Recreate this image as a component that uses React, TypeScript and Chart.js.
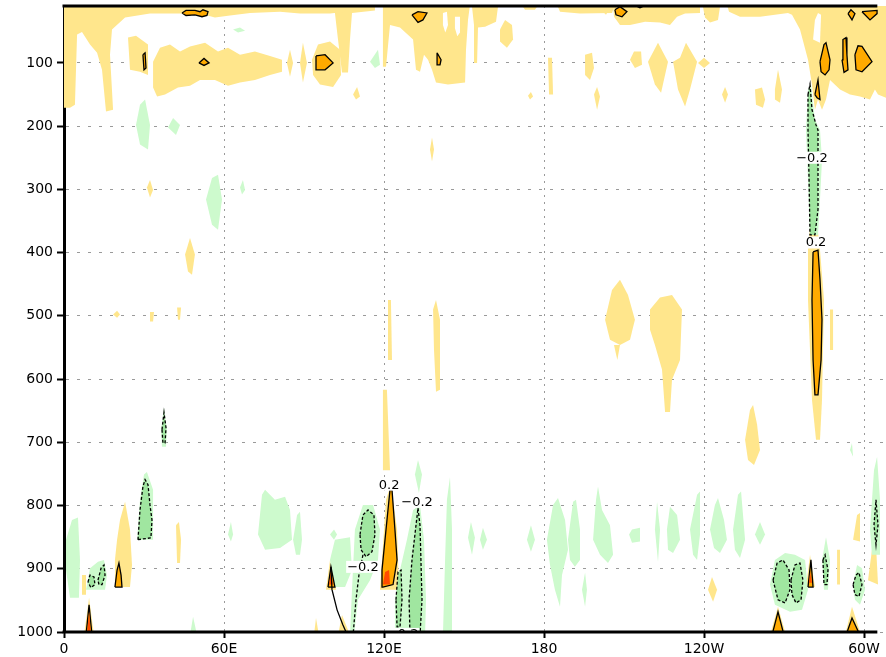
import { useEffect, useRef } from 'react';
import { Chart, registerables } from 'chart.js';

Chart.register(...registerables);

type Pt = [number, number]; // [longitude (deg E), pressure (hPa)]

// ---- axes ----
const lonMin = 0;
const lonMax = 308.25;
const frameRightLon = 305;
const presTop = 10;
const presBottom = 1000;
const xTickValues = [0, 60, 120, 180, 240, 300];
const xTickLabels = ['0', '60E', '120E', '180', '120W', '60W'];
const yTickValues = [100, 200, 300, 400, 500, 600, 700, 800, 900, 1000];

// ---- shaded areas: +0.1..+0.2 (pale yellow) ----
const paleYellowAreas: Pt[][] = [
  [[0, 8], [54.75, 8], [54.75, 19], [43.5, 22], [32.25, 22], [22.9, 28], [18, 47], [17.25, 87], [18.4, 174], [15.75, 177], [14.25, 111], [12.4, 84], [9.75, 71], [6.75, 51], [4.9, 55], [4.1, 166], [2.25, 171], [0, 171]],
  [[24, 60], [27, 57], [31.5, 71], [31.5, 119], [28.5, 114], [24.75, 111]],
  [[33.4, 98], [36, 76], [39.75, 71], [43.5, 82], [47.25, 74], [52.9, 68], [57.75, 82], [61.5, 76], [66, 87], [71.6, 82], [77.25, 89], [81.75, 95], [81.75, 114], [77.25, 119], [71.6, 127], [66, 131], [61.5, 136], [56.6, 127], [51, 127], [47.25, 136], [42.75, 139], [37.9, 150], [34.9, 153], [33.4, 139]],
  [[83.6, 100], [84.75, 79], [85.9, 100], [84.75, 122]],
  [[88.5, 100], [89.6, 68], [91.1, 100], [89.6, 131]],
  [[93, 95], [95.25, 71], [99.75, 66], [103.5, 79], [103.9, 119], [100.9, 138], [96, 134], [93.4, 119]],
  [[51, 8], [105.4, 8], [105.4, 19], [99.75, 22], [88.5, 22], [81, 19], [69.75, 21], [62.25, 25], [56.6, 28], [51, 22]],
  [[99.75, 8], [116.6, 8], [116.6, 17], [108, 21], [107.25, 63], [106.5, 115], [104.25, 115], [102.75, 63], [101.6, 21], [99.75, 19]],
  [[119.6, 8], [152.25, 8], [151.5, 32], [150.75, 79], [150.4, 131], [144, 134], [139.5, 131], [138, 111], [136.5, 95], [135, 87], [133.5, 114], [132, 111], [130.9, 63], [126, 44], [122.25, 40], [120.75, 106], [119.6, 106]],
  [[153, 11], [162.75, 11], [162, 35], [157.9, 43], [155.25, 44], [154.9, 100], [154.1, 100], [153.75, 40]],
  [[163.5, 47], [165.4, 32], [168, 40], [168.4, 63], [166.1, 76], [163.5, 66]],
  [[172.1, 11], [177.4, 11], [176.6, 16], [172.9, 16]],
  [[181.5, 92], [183, 92], [183.4, 150], [181.9, 150]],
  [[184.9, 8], [206.6, 8], [205.5, 21], [193.5, 22], [186, 19]],
  [[195.4, 87], [198, 84], [198.75, 108], [197.25, 127], [195.4, 119]],
  [[198.75, 150], [199.9, 138], [201, 153], [199.9, 174]],
  [[174, 152], [175.1, 146], [175.9, 153], [174.75, 158]],
  [[108.4, 150], [109.9, 138], [111, 153], [109.5, 158]],
  [[201.4, 16], [204.4, 16], [203.25, 24]],
  [[205.9, 8], [238.5, 8], [238.5, 21], [232.9, 22], [229.9, 27], [227.25, 40], [223.5, 36], [217.9, 35], [212.25, 40], [208.5, 40], [206.25, 27]],
  [[239.6, 11], [246, 11], [245.25, 32], [242.25, 36], [240.4, 28]],
  [[248.6, 8], [272.25, 8], [271.5, 21], [261, 27], [253.5, 27], [249.4, 19]],
  [[270.4, 8], [310, 8], [310, 158], [305.25, 150], [304.1, 142], [302.25, 158], [298.5, 153], [294.75, 150], [291, 142], [287.25, 127], [285.75, 158], [284.25, 174], [282.75, 158], [281.6, 174], [280.5, 134], [279, 95], [276, 47], [273, 24], [270.4, 19]],
  [[212.25, 95], [213.75, 82], [216.4, 82], [216.75, 103], [214.1, 108]],
  [[219, 98], [222.75, 68], [226.5, 98], [223.9, 147], [221.6, 134]],
  [[228.4, 98], [231, 92], [233.25, 68], [237.4, 98], [234.75, 142], [232.9, 169], [230.25, 142]],
  [[237.75, 100], [240, 92], [242.25, 100], [240, 108]],
  [[246.75, 150], [247.9, 138], [249, 150], [247.9, 163]],
  [[259.1, 142], [261.75, 139], [262.9, 158], [262.1, 171], [259.5, 166]],
  [[266.6, 142], [267.75, 111], [269.25, 142], [268.5, 163], [266.6, 158]],
  [[31.1, 297], [32.25, 285], [33.4, 301], [32.25, 313]],
  [[45.4, 403], [47.25, 377], [49.1, 403], [48, 435], [46.5, 430]],
  [[137.25, 237], [138, 218], [138.75, 237], [138, 256]],
  [[280.5, 324], [282, 340], [283.5, 396], [285, 475], [284.25, 633], [283.5, 696], [282, 696], [280.5, 633], [279, 475], [279, 396]],
  [[287.25, 490], [288.4, 490], [288.4, 554], [287.25, 554]],
  [[202.9, 506], [205.5, 459], [208.5, 443], [211.5, 467], [214.1, 506], [212.25, 538], [208.5, 546], [204.75, 538]],
  [[206.25, 546], [208.5, 546], [207.5, 570]],
  [[219.75, 490], [223.5, 471], [228, 467], [231.75, 490], [231, 570], [228, 601], [227.25, 652], [225.4, 652], [224.25, 585], [221.6, 546], [219.75, 522]],
  [[255.4, 696], [257.25, 649], [258.4, 641], [259.9, 672], [261, 712], [258.75, 736], [256.5, 728]],
  [[121.5, 475], [122.6, 475], [123, 570], [121.5, 570]],
  [[138.4, 490], [139.5, 475], [141, 506], [141, 617], [139.5, 620], [138.75, 554]],
  [[18.4, 498], [19.9, 492], [21, 498], [19.9, 503]],
  [[32.25, 494], [33.75, 494], [33.4, 509], [32.6, 509]],
  [[42.4, 487], [43.9, 487], [43.5, 506], [42.75, 506]],
  [[119.6, 617], [121.1, 617], [122.25, 744], [119.25, 744]],
  [[21, 823], [22.9, 794], [24.75, 838], [25.5, 894], [24.75, 929], [19.1, 929], [19.1, 886], [19.9, 854]],
  [[6.75, 910], [8.25, 910], [8.25, 941], [6.75, 941]],
  [[42, 831], [43.1, 826], [43.9, 854], [43.5, 891], [42.4, 891]],
  [[93.75, 1005], [94.5, 978], [95.6, 1005]],
  [[102.75, 1005], [104.25, 973], [107.25, 1005]],
  [[241.5, 933], [243, 913], [244.9, 933], [243.4, 952]],
  [[264.75, 1005], [267.75, 960], [270.75, 1005]],
  [[292.9, 1005], [295.5, 960], [298.9, 1005]],
  [[289.9, 870], [291, 870], [291, 925], [289.9, 925]],
  [[295.9, 854], [297.4, 815], [298.5, 812], [298.5, 857]],
  [[301.5, 918], [303, 870], [304.5, 862], [305.25, 925]],
  [[7.5, 1005], [9.4, 946], [11.25, 1005]],
  [[118.5, 933], [120.75, 791], [122.6, 767], [124.9, 838], [125.6, 933]],
  [[98.25, 933], [99.75, 886], [102, 933]],
  [[278.25, 929], [279.75, 878], [281.6, 929]],
];

// unshaded gaps inside the yellow areas
const whiteGaps: Pt[][] = [
  [[142.1, 21], [143.6, 19], [144, 40], [143, 52], [142.1, 40]],
  [[146.6, 27], [148.5, 27], [148.5, 52], [147.5, 58], [146.6, 45]],
  [[280.9, 63], [281.6, 32], [282.75, 21], [283.9, 24], [283.5, 68]],
];

// ---- shaded areas: -0.1..-0.2 (pale green) ----
const paleGreenAreas: Pt[][] = [
  [[27, 198], [28.5, 166], [30.4, 158], [32.25, 198], [31.5, 237], [28.5, 229]],
  [[39, 202], [40.9, 187], [43.5, 198], [42, 214]],
  [[53.25, 316], [55.5, 282], [57.75, 277], [59.25, 316], [57.75, 364], [55.5, 356]],
  [[66, 297], [67.1, 285], [67.9, 301], [66.75, 308]],
  [[114.75, 98], [117.75, 79], [118.5, 103], [116.6, 108]],
  [[63.4, 47], [66, 44], [67.9, 49], [65.25, 52]],
  [[36.4, 680], [37.5, 645], [38.6, 680], [38.25, 707], [36.75, 707]],
  [[0.75, 854], [3, 823], [5.25, 819], [6, 886], [5.6, 946], [2.25, 946], [0.75, 902]],
  [[27.4, 854], [28.5, 791], [30, 751], [31.1, 747], [33.4, 775], [33.4, 854]],
  [[8.25, 933], [9.75, 899], [12.75, 889], [15, 886], [16.1, 910], [15.4, 933]],
  [[47.25, 1005], [48.4, 976], [49.9, 1005]],
  [[61.5, 846], [62.6, 826], [63.4, 846], [62.6, 857]],
  [[72.75, 846], [74.25, 783], [75.4, 775], [79.1, 791], [82.9, 786], [84.75, 807], [85.5, 854], [81, 867], [75.4, 870]],
  [[85.9, 854], [87.4, 815], [88.5, 810], [89.25, 854], [88.5, 878], [87, 878]],
  [[99.75, 846], [101.25, 838], [102.4, 846], [101.25, 854]],
  [[109.1, 838], [112.1, 799], [115.9, 799], [118.5, 838], [117.75, 886], [114.75, 918], [110.25, 949], [108.75, 1005], [107.25, 1005], [108, 933]],
  [[99.75, 886], [101.6, 854], [107.25, 850], [108, 902], [105.4, 929], [100.9, 929]],
  [[124.1, 949], [126, 902], [128.6, 854], [130.9, 807], [133.5, 799], [135, 854], [135.75, 949], [135.4, 1005], [124.1, 1005]],
  [[131.6, 751], [132.75, 728], [134.25, 751], [133.1, 780]],
  [[142.1, 1005], [142.9, 886], [143.6, 791], [144.75, 755], [145.5, 838], [145.5, 1005]],
  [[151.5, 851], [152.6, 826], [154.1, 851], [153, 878]],
  [[156, 854], [157.1, 835], [158.6, 854], [157.1, 870]],
  [[173.6, 854], [175.1, 831], [176.6, 854], [175.1, 873]],
  [[181.1, 854], [183.4, 799], [185.25, 788], [187.9, 823], [189, 870], [186.75, 910], [186, 960], [184.1, 933], [182.25, 894]],
  [[189, 854], [190.9, 794], [192, 791], [193.5, 838], [193.5, 886], [191.6, 897], [189.75, 886]],
  [[194.25, 933], [195.4, 906], [196.1, 933], [195.4, 960]],
  [[198.4, 854], [199.5, 791], [200.25, 770], [201.75, 807], [204.75, 831], [205.9, 878], [204, 891], [201, 878]],
  [[211.9, 846], [213, 838], [216, 835], [216, 857], [213, 859]],
  [[221.6, 838], [222.4, 794], [223.5, 838], [222.75, 889]],
  [[226.1, 838], [227.25, 802], [229.9, 815], [231, 854], [228.4, 875], [226.5, 870]],
  [[234.75, 838], [237.4, 783], [238.5, 778], [238.5, 846], [237.4, 886], [235.9, 878]],
  [[242.25, 838], [244.1, 799], [245.25, 788], [247.5, 823], [248.6, 854], [246, 875], [243.75, 867]],
  [[250.9, 838], [252.75, 783], [253.9, 778], [255.4, 854], [253.5, 883], [251.6, 870]],
  [[264.75, 925], [266.6, 886], [270.4, 875], [274.1, 878], [277.9, 886], [279, 933], [276.75, 965], [272.25, 968], [266.6, 957]],
  [[284.25, 886], [285.75, 850], [287.25, 886], [286.5, 933], [285, 933]],
  [[294.75, 712], [295.5, 701], [295.9, 723]],
  [[295.9, 925], [297.4, 894], [299.25, 899], [300.4, 933], [298.5, 957], [296.6, 949]],
  [[302.25, 838], [303.75, 744], [304.9, 723], [306, 791], [306, 878], [303, 878]],
  [[259.1, 846], [261, 826], [262.9, 846], [261, 862]],
  [[279, 142], [280.1, 134], [281.6, 190], [283.5, 206], [284.25, 253], [283.5, 316], [282.75, 372], [279.75, 372], [279, 285], [278.25, 206]],
];

// ---- shaded areas: below -0.2 (green, dashed -0.2 contour) ----
const greenAreas: Pt[][] = [
  [[27.75, 854], [28.5, 807], [29.6, 770], [30.4, 759], [31.5, 767], [32.25, 799], [33, 823], [32.6, 851]],
  [[36.75, 680], [37.5, 653], [38.25, 677], [37.9, 701], [37.1, 701]],
  [[9, 921], [9.75, 910], [11.25, 913], [11.6, 925], [10.1, 930]],
  [[12.75, 918], [13.9, 899], [15, 894], [15.4, 910], [14.25, 925], [13.1, 925]],
  [[111, 846], [112.1, 815], [114, 807], [116.25, 815], [116.6, 846], [115.5, 873], [113.25, 881], [111.4, 870]],
  [[132.75, 804], [133.5, 831], [134.25, 949], [133.5, 1005], [129.75, 1005], [129.4, 949], [130.5, 886], [132, 831]],
  [[124.5, 949], [125.25, 905], [126.4, 902], [126.75, 949], [126, 992], [124.9, 992]],
  [[279, 150], [279.75, 134], [280.5, 174], [282, 198], [282.75, 206], [282.75, 332], [281.6, 372], [279.75, 372], [279.4, 285], [279, 206]],
  [[265.9, 918], [267.4, 891], [269.6, 886], [271.9, 902], [272.25, 933], [270.4, 954], [267.75, 949]],
  [[272.6, 918], [274.1, 894], [276, 891], [277.1, 918], [276.4, 949], [274.5, 954], [273, 941]],
  [[295.9, 925], [297, 910], [298.1, 906], [299.25, 925], [298.1, 944], [296.6, 941]],
  [[284.6, 886], [285.4, 878], [286.5, 902], [286.1, 925], [285, 925]],
  [[303.75, 831], [304.5, 791], [305.25, 831], [304.5, 862]],
];

// ---- shaded areas: above +0.2 (orange, solid 0.2 contour) ----
const orangeAreas: Pt[][] = [
  [[44.25, 21], [45.75, 17], [49.1, 17], [51, 19], [52.1, 16], [54, 19], [53.6, 25], [51.75, 27], [49.1, 24], [45.75, 25]],
  [[50.6, 100], [52.5, 93], [54.4, 100], [52.5, 104]],
  [[29.6, 87], [30.4, 84], [30.75, 108], [30, 111]],
  [[94.5, 89], [97.9, 87], [100.9, 100], [97.9, 111], [94.5, 111]],
  [[130.5, 24], [132.75, 19], [136.1, 21], [134.6, 32], [132.75, 36]],
  [[139.9, 84], [141.4, 95], [141, 103], [139.9, 103]],
  [[206.6, 16], [208.5, 11], [211.1, 19], [209.25, 27], [207, 24]],
  [[214.1, 9], [217.9, 9], [216, 13]],
  [[283.5, 98], [285, 71], [285.75, 68], [287.25, 95], [286.9, 111], [285.4, 119], [283.9, 114]],
  [[291.75, 95], [292.1, 63], [293.25, 60], [293.6, 87], [294, 111], [292.5, 115]],
  [[296.6, 87], [297.75, 73], [299.25, 74], [303, 98], [299.25, 114], [297, 111]],
  [[294, 22], [295.1, 16], [296.6, 22], [295.5, 32]],
  [[299.25, 19], [304.9, 17], [304.9, 22], [302.25, 32]],
  [[280.9, 399], [282.75, 396], [283.5, 443], [284.25, 506], [283.9, 570], [282.75, 625], [281.6, 625], [280.9, 570], [280.5, 475]],
  [[122.25, 775], [123, 775], [124.1, 838], [124.9, 886], [123.4, 925], [119.6, 929], [119.25, 902], [120.75, 838]],
  [[8.25, 1005], [9.4, 957], [10.5, 1005]],
  [[19.1, 929], [19.9, 902], [20.6, 891], [21.4, 910], [21.75, 929]],
  [[99, 929], [100.1, 897], [101.6, 929]],
  [[279, 929], [280.1, 886], [280.9, 929]],
  [[265.5, 1005], [267.75, 968], [270, 1005]],
  [[293.25, 1005], [295.5, 978], [298.5, 1005]],
  [[281.6, 150], [282.75, 127], [283.5, 158], [282.4, 155]],
];

// ---- shaded areas: strongest positive (red) ----
const redAreas: Pt[][] = [
  [[119.6, 925], [120.4, 905], [121.9, 902], [122.25, 925]],
  [[8.6, 1005], [9.4, 968], [10.1, 1005]],
  [[99.4, 925], [100.1, 905], [100.9, 925]],
  [[279.4, 922], [279.75, 905], [280.5, 922]],
];

// ---- open contour segments ----
const solidContours: Pt[][] = [
  [[100.1, 897], [100.5, 933], [102.4, 965], [104.6, 989], [106.3, 1005]],
];
const dashedContours: Pt[][] = [
  [[112.1, 878], [110.6, 910], [109.5, 949], [108.4, 1005]],
];

// ---- contour labels ----
const contourLabelLon = [280.5, 282, 121.9, 132.4, 112.1, 127];
const contourLabelPres = [250, 384, 767, 794, 897, 1003];
const contourLabelText = ['\u22120.2', '0.2', '0.2', '\u22120.2', '\u22120.2', '\u22120.2'];

// ---- colours ----
const PALE_YELLOW = '#FFE68C';
const ORANGE = '#FFAA00';
const RED = '#FF4B00';
const PALE_GREEN = '#CDFACD';
const GREEN = '#A0E6A0';

const toData = (pts: Pt[], close: boolean) => {
  const arr = close ? [...pts, pts[0]] : pts;
  return arr.map(([x, y]) => ({ x, y }));
};

const areaSet = (pts: Pt[], color: string, order: number, border?: { dash?: number[] }) => ({
  data: toData(pts, true),
  showLine: true,
  fill: 'shape',
  backgroundColor: color,
  borderColor: border ? '#000' : color,
  borderWidth: border ? 1.3 : 0,
  borderDash: border && border.dash ? border.dash : [],
  pointRadius: 0,
  pointHoverRadius: 0,
  tension: 0,
  order,
});

const lineSet = (pts: Pt[], dash: number[], order: number) => ({
  data: toData(pts, false),
  showLine: true,
  fill: false,
  borderColor: '#000',
  borderWidth: 1.3,
  borderDash: dash,
  pointRadius: 0,
  pointHoverRadius: 0,
  tension: 0,
  order,
});

const overlayPlugin = {
  id: 'overlay',
  afterDraw(chart: any) {
    const { ctx, chartArea } = chart;
    const xs = chart.scales.x;
    const ys = chart.scales.y;
    ctx.save();
    ctx.beginPath();
    ctx.rect(chartArea.left, chartArea.top, chartArea.right - chartArea.left, chartArea.bottom - chartArea.top);
    ctx.clip();
    ctx.font = '13px "DejaVu Sans"';
    ctx.textAlign = 'center';
    ctx.textBaseline = 'middle';
    contourLabelText.forEach((t, i) => {
      const px = xs.getPixelForValue(contourLabelLon[i]);
      const py = ys.getPixelForValue(contourLabelPres[i]);
      const w = ctx.measureText(t).width;
      ctx.fillStyle = '#fff';
      ctx.fillRect(px - w / 2 - 1, py - 6, w + 2, 12);
      ctx.fillStyle = '#000';
      ctx.fillText(t, px, py + 0.5);
    });
    ctx.restore();
    ctx.save();
    ctx.strokeStyle = '#000';
    ctx.lineWidth = 3;
    const xr = xs.getPixelForValue(frameRightLon);
    ctx.beginPath();
    ctx.moveTo(chartArea.left - 1.5, chartArea.top);
    ctx.lineTo(xr, chartArea.top);
    ctx.moveTo(chartArea.left - 1.5, chartArea.bottom);
    ctx.lineTo(xr, chartArea.bottom);
    ctx.stroke();
    ctx.restore();
  },
};

export default function App() {
  const ref = useRef<HTMLCanvasElement | null>(null);
  useEffect(() => {
    document.body.style.margin = '0';
    const canvas = ref.current;
    if (!canvas) return;
    Chart.defaults.font.family = '"DejaVu Sans", sans-serif';
    Chart.defaults.font.size = 14;
    Chart.defaults.color = '#000';

    const datasets: any[] = [
      ...paleYellowAreas.map((p) => areaSet(p, PALE_YELLOW, 20)),
      ...whiteGaps.map((p) => areaSet(p, '#FFFFFF', 19)),
      ...paleGreenAreas.map((p) => areaSet(p, PALE_GREEN, 18)),
      ...greenAreas.map((p) => areaSet(p, GREEN, 17, { dash: [3, 2] })),
      ...orangeAreas.map((p) => areaSet(p, ORANGE, 16, {})),
      ...redAreas.map((p) => areaSet(p, RED, 15)),
      ...solidContours.map((p) => lineSet(p, [], 14)),
      ...dashedContours.map((p) => lineSet(p, [3, 2], 14)),
    ];

    const chart = new Chart(canvas, {
      type: 'scatter',
      data: { datasets },
      plugins: [overlayPlugin],
      options: {
        animation: false,
        responsive: false,
        devicePixelRatio: 1,
        events: [],
        layout: { padding: { top: 6, left: 0, right: 0, bottom: 0 } },
        plugins: { legend: { display: false }, tooltip: { enabled: false } },
        scales: {
          x: {
            type: 'linear',
            min: lonMin,
            max: lonMax,
            z: 1,
            afterBuildTicks: (s: any) => {
              s.ticks = xTickValues.map((v) => ({ value: v }));
            },
            afterFit: (s: any) => {
              s.height = 25;
              s.paddingLeft = 0;
              s.paddingRight = 0;
            },
            ticks: {
              autoSkip: false,
              maxRotation: 0,
              padding: 3,
              color: '#000',
              font: { size: 14 },
              callback: (v: any) => {
                const i = xTickValues.indexOf(Number(v));
                return i >= 0 ? xTickLabels[i] : '';
              },
            },
            grid: {
              color: '#9a9a9a',
              lineWidth: 1,
              drawTicks: true,
              tickLength: 6,
              tickWidth: 2,
              tickColor: '#000',
              tickBorderDash: [],
            },
            border: { display: false, dash: [2, 5] },
          },
          y: {
            type: 'linear',
            reverse: true,
            min: presTop,
            max: presBottom,
            z: 1,
            afterBuildTicks: (s: any) => {
              s.ticks = yTickValues.map((v) => ({ value: v }));
            },
            afterFit: (s: any) => {
              s.width = 64;
              s.paddingTop = 0;
              s.paddingBottom = 0;
            },
            ticks: {
              autoSkip: false,
              padding: 4,
              color: '#000',
              font: { size: 14 },
              callback: (v: any) => String(v),
            },
            grid: {
              color: '#9a9a9a',
              lineWidth: 1,
              drawTicks: true,
              tickLength: 7,
              tickWidth: 2,
              tickColor: '#000',
              tickBorderDash: [],
            },
            border: { display: true, color: '#000', width: 3, dash: [3, 8] },
          },
        },
      } as any,
    });
    return () => chart.destroy();
  }, []);

  return (
    <div style={{ width: 886, height: 657 }}>
      <canvas ref={ref} width={886} height={657} style={{ width: 886, height: 657, display: 'block' }} />
    </div>
  );
}
